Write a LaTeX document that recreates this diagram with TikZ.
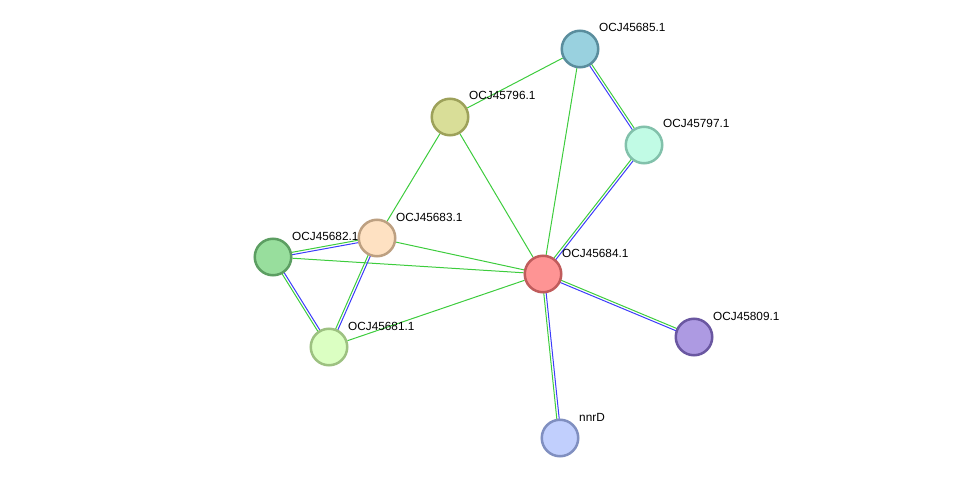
\documentclass[tikz,border=0pt]{standalone}
\usepackage{fontspec}
\setmainfont{Liberation Sans}
\usetikzlibrary{calc}
\definecolor{f685}{HTML}{99D1DF}\definecolor{d685}{HTML}{5A8D9D}
\definecolor{f796}{HTML}{D9DE98}\definecolor{d796}{HTML}{9DA15A}
\definecolor{f797}{HTML}{C1FBE5}\definecolor{d797}{HTML}{82C1AB}
\definecolor{f683}{HTML}{FEE1C2}\definecolor{d683}{HTML}{BDA081}
\definecolor{f682}{HTML}{98DE9D}\definecolor{d682}{HTML}{5C9E62}
\definecolor{f684}{HTML}{FE9494}\definecolor{d684}{HTML}{C05C5C}
\definecolor{f809}{HTML}{AD9AE2}\definecolor{d809}{HTML}{6A57A1}
\definecolor{f681}{HTML}{DBFFC2}\definecolor{d681}{HTML}{9DC181}
\definecolor{fnnrD}{HTML}{C1CFFD}\definecolor{dnnrD}{HTML}{808FC0}
\definecolor{edgegreen}{HTML}{3DCC3D}
\definecolor{edgeblue}{HTML}{3C3CFA}
\pgfdeclarelayer{edges}
\pgfdeclarelayer{labels}
\pgfsetlayers{edges,labels,main}
% two-colour link, green on the left of #1 -> #2
\newcommand{\evid}[2]{%
  \draw[grnedge] ($(#1)!1.2pt!90:(#2)$) -- ($(#2)!1.2pt!-90:(#1)$);
  \draw[bluedge] ($(#1)!1.2pt!-90:(#2)$) -- ($(#2)!1.2pt!90:(#1)$);
}
\tikzset{
  prot/.style={circle,minimum size=36.5pt,inner sep=0pt,line width=2.5pt},
  lbl/.style={anchor=base west,inner sep=0pt,font=\fontsize{11.8}{12}\selectfont},
  grnedge/.style={draw=edgegreen,line width=1pt},
  bluedge/.style={draw=edgeblue,line width=1pt}
}
\begin{document}
\begin{tikzpicture}[x=1pt,y=-1pt]
\useasboundingbox (0,0) rectangle (975,484);
\foreach \n/\x/\y in {685/580/49, 796/450/117, 797/644/145, 683/377/238, 682/273/257,
    684/543/274, 809/694/337, 681/329/347, nnrD/560/438}
  \node[prot,fill=f\n,draw=d\n] (p\n) at (\x,\y) {};
% labels
\begin{pgfonlayer}{labels}
\foreach \n/\t in {685/OCJ45685.1, 796/OCJ45796.1, 797/OCJ45797.1, 683/OCJ45683.1,
    682/OCJ45682.1, 684/OCJ45684.1, 809/OCJ45809.1, 681/OCJ45681.1, nnrD/nnrD}
  \node[lbl] (t\n) at ($(p\n)+(19,-17)$) {\t};
\end{pgfonlayer}
% links
\begin{pgfonlayer}{edges}
\foreach \a/\b in {685/796, 685/684, 796/683, 796/684, 683/684, 682/684, 681/684}
  \draw[grnedge] (p\a) -- (p\b);
\evid{p685}{p797}
\evid{p684}{p797}
\evid{p682}{p683}
\evid{p681}{p682}
\evid{p681}{p683}
\evid{p684}{p809}
\evid{pnnrD}{p684}
\end{pgfonlayer}
\end{tikzpicture}
\end{document}
